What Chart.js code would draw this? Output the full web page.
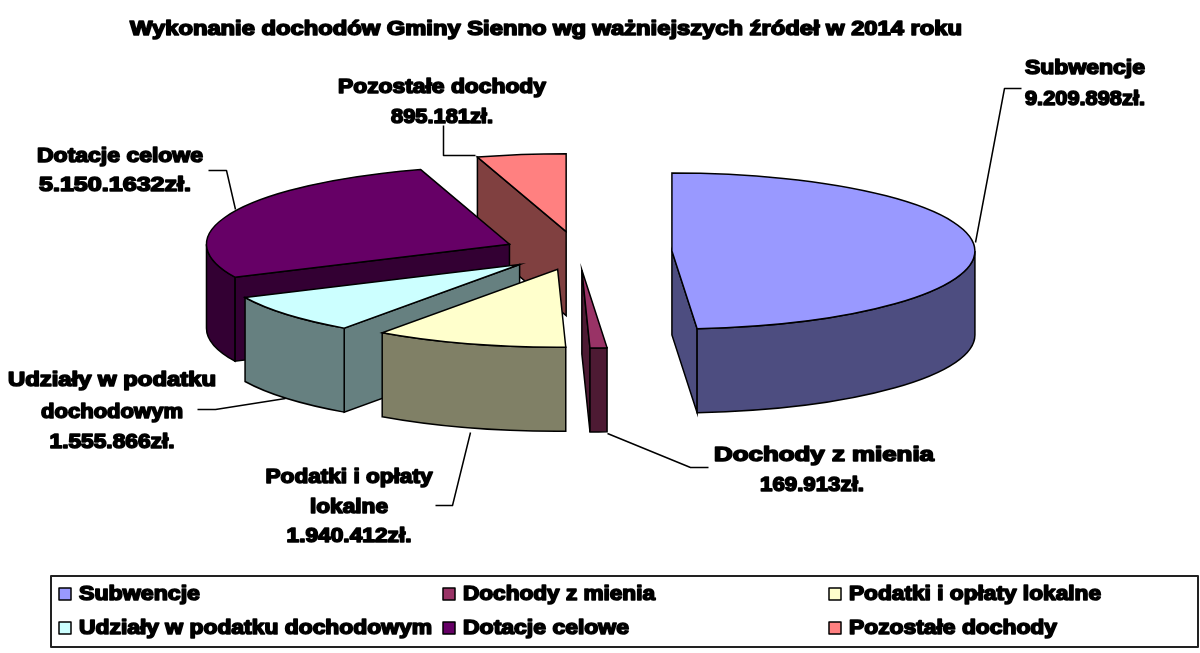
<!DOCTYPE html>
<html lang="pl"><head><meta charset="utf-8">
<style>html,body{margin:0;padding:0;background:#fff}canvas{display:block}</style>
<script src="https://cdn.jsdelivr.net/npm/chart.js@4"></script>
</head><body><canvas id="c" width="1200" height="653"></canvas>
<script>
const categories = ['Subwencje','Dochody z mienia','Podatki i opłaty lokalne','Udziały w podatku dochodowym','Dotacje celowe','Pozostałe dochody'];
const values = [9209898,169913,1940412,1555866,5150163,895181];
const valueLabels = ['9.209.898zł.','169.913zł.','1.940.412zł.','1.555.866zł.','5.150.1632zł.','895.181zł.'];
const titleText = 'Wykonanie dochodów Gminy Sienno wg ważniejszych źródeł w 2014 roku';
const colors = ['#9999FF','#993366','#FFFFCC','#CCFFFF','#660066','#FF8080'];
const wallColors = ['#4D4D80','#4D1A33','#808066','#668080','#330033','#804040'];
const explode = [94,70,70,76,75,80];

const TILT = 78/303, DEPTH = 84;
const FONT = 'bold 20px "Liberation Sans"';
function heavy(ctx, t, x, y, align, w){
  ctx.font = FONT; ctx.textAlign = align||'center'; ctx.textBaseline='middle';
  ctx.fillStyle='#000'; ctx.strokeStyle='#000'; ctx.lineWidth=1.6; ctx.lineJoin='round';
  ctx.save();
  const m = ctx.measureText(t).width;
  const s = w ? w/m : 1;
  ctx.translate(x,y); ctx.scale(s,1);
  ctx.fillText(t,0,0); ctx.strokeText(t,0,0);
  ctx.restore();
}
const labelLayout = [
 {lines:[['Subwencje',1085,68,120],[valueLabels[0],1085,99,120]], lead:[[1021,88],[1004,88],[975,242]]},
 {lines:[['Dochody z mienia',824,455,220],[valueLabels[1],812,485,104]], lead:[[607,433],[690,467],[708,467]]},
 {lines:[['Podatki i opłaty',349,477,167],['lokalne',349,507,78],[valueLabels[2],349,536,125]], lead:[[470,432],[452,505],[435,505]]},
 {lines:[['Udziały w podatku',112,380,208],['dochodowym',112,412,142],[valueLabels[3],112,442,125]], lead:[[285,398],[215,409],[197,409]]},
 {lines:[['Dotacje celowe',120,156,166],[valueLabels[4],115,185,152]], lead:[[235,209],[226,170],[208,170]]},
 {lines:[['Pozostałe dochody',442,87,208],[valueLabels[5],442,117,102]], lead:[[443,125],[443,155],[475,155]]}
];
const legendCols=[59,443,829], legendRows=[594,628];
const legendWidths=[121,192,252,353,166,208];

const pie3d = {
  id:'pie3d',
  beforeDatasetsDraw(chart){
    const ctx = chart.ctx, arcs = chart.getDatasetMeta(0).data;
    ctx.save();
    ctx.strokeStyle='#000'; ctx.lineWidth=1.5; ctx.lineJoin='miter';
    for(let i=arcs.length-1;i>=0;i--){
      const el=arcs[i], a0=el.startAngle, a1=el.endAngle, R=el.outerRadius;
      const mid=(a0+a1)/2, off=el.options.offset;
      const cx=el.x+Math.cos(mid)*off, cy=el.y+Math.sin(mid)*off*TILT, rY=R*TILT;
      const face=(a)=>{
        const px=cx+Math.cos(a)*R, py=cy+Math.sin(a)*rY;
        ctx.beginPath(); ctx.moveTo(cx,cy); ctx.lineTo(px,py); ctx.lineTo(px,py+DEPTH); ctx.lineTo(cx,cy+DEPTH); ctx.closePath();
        ctx.fillStyle=wallColors[i]; ctx.fill(); ctx.stroke();
      };
      if(Math.cos(a0)<0) face(a0);
      if(Math.cos(a1)>0) face(a1);
      const w0=Math.max(a0,0), w1=Math.min(a1,Math.PI);
      if(w1>w0){
        ctx.beginPath(); ctx.ellipse(cx,cy,R,rY,0,w0,w1);
        ctx.ellipse(cx,cy+DEPTH,R,rY,0,w1,w0,true); ctx.closePath();
        ctx.fillStyle=wallColors[i]; ctx.fill(); ctx.stroke();
      }
      ctx.beginPath(); ctx.moveTo(cx,cy); ctx.ellipse(cx,cy,R,rY,0,a0,a1); ctx.closePath();
      ctx.fillStyle=el.options.backgroundColor; ctx.fill(); ctx.stroke();
    }
    ctx.restore();
    return false;
  },
  afterDraw(chart){
    const ctx=chart.ctx;
    ctx.save();
    heavy(ctx,titleText,546,29,'center',832);
    labelLayout.forEach(l=>{
      ctx.strokeStyle='#000'; ctx.lineWidth=1.5; ctx.beginPath();
      l.lead.forEach((p,k)=>k?ctx.lineTo(p[0]+.5,p[1]+.5):ctx.moveTo(p[0]+.5,p[1]+.5)); ctx.stroke();
      l.lines.forEach(t=>heavy(ctx,t[0],t[1],t[2],'center',t[3]));
    });
    ctx.strokeStyle='#222'; ctx.lineWidth=2; ctx.strokeRect(51,576,1147,71);
    categories.forEach((c,i)=>{
      const x=legendCols[i%3], y=legendRows[Math.floor(i/3)];
      ctx.fillStyle=colors[i]; ctx.fillRect(x,y-6,12,12);
      ctx.strokeStyle='#000'; ctx.lineWidth=1.5; ctx.strokeRect(x,y-6,12,12);
      heavy(ctx,c,x+20,y,'left',legendWidths[i]);
    });
    ctx.restore();
  }
};
new Chart(document.getElementById('c'),{
  type:'pie',
  data:{labels:categories,datasets:[{data:values,backgroundColor:colors,offset:explode,radius:303,clip:false,borderWidth:0}]},
  options:{responsive:false,animation:false,devicePixelRatio:1,
    layout:{padding:{right:44,bottom:149}},
    plugins:{legend:{display:false},title:{display:false},tooltip:{enabled:false}}},
  plugins:[pie3d]
});
</script></body></html>
